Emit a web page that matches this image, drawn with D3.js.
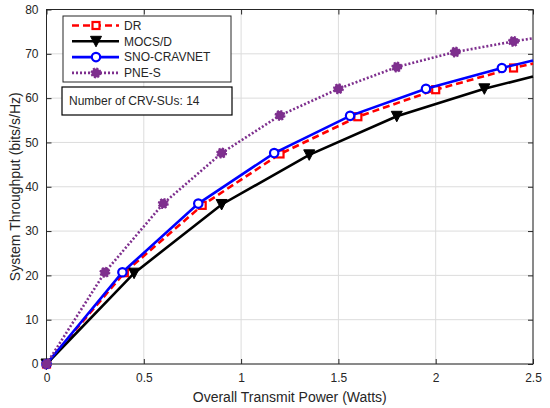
<!DOCTYPE html>
<meta charset="utf-8">
<title>System Throughput</title>
<script src="https://d3js.org/d3.v7.min.js"></script>
<style>
  body { margin: 0; background: #fff; }
  text { font-family: "Liberation Sans", Arial, sans-serif; fill: #262626; }
</style>
<body>
<div id="my_dataviz"></div>
<script>
// data (x = Watts, y = bits/s/Hz)
var drX   = [0, 0.4, 0.8, 1.2, 1.6, 2.0, 2.4, 2.5];
var drY   = [0, 20.6, 35.8, 47.4, 55.8, 61.9, 66.8, 67.8];
var mocsX = [0, 0.45, 0.9, 1.35, 1.8, 2.25, 2.5];
var mocsY = [0, 20.5, 36.0, 47.2, 55.9, 62.1, 64.9];
var snoX  = [0, 0.39, 0.78, 1.17, 1.56, 1.95, 2.34, 2.5];
var snoY  = [0, 20.7, 36.2, 47.6, 56.0, 62.1, 66.8, 68.5];
var pneX  = [0, 0.3, 0.6, 0.9, 1.2, 1.5, 1.8, 2.1, 2.4, 2.5];
var pneY  = [0, 20.7, 36.2, 47.6, 56.1, 62.1, 67.0, 70.4, 72.8, 73.5];

var seriesNames = ["DR", "MOCS/D", "SNO-CRAVNET", "PNE-S"];
var xTicks = [0, 0.5, 1, 1.5, 2, 2.5];
var yTicks = [0, 10, 20, 30, 40, 50, 60, 70, 80];
var noteText = "Number of CRV-SUs: 14";

var margin = {top: 9.5, right: 17, bottom: 44, left: 46.5},
    width = 550 - margin.left - margin.right,
    height = 408 - margin.top - margin.bottom;

var svg = d3.select("#my_dataviz")
  .append("svg")
    .attr("width", 550)
    .attr("height", 408)
  .append("g")
    .attr("transform", "translate(" + margin.left + "," + margin.top + ")");

var x = d3.scaleLinear().domain([0, 2.5]).range([0, width]);
var y = d3.scaleLinear().domain([0, 80]).range([height, 0]);

// grid
svg.append("g").selectAll("line").data(xTicks).enter().append("line")
  .attr("x1", function(d) { return x(d); }).attr("x2", function(d) { return x(d); })
  .attr("y1", 0).attr("y2", height)
  .attr("stroke", "#dcdcdc").attr("stroke-width", 1);
svg.append("g").selectAll("line").data(yTicks).enter().append("line")
  .attr("y1", function(d) { return y(d); }).attr("y2", function(d) { return y(d); })
  .attr("x1", 0).attr("x2", width)
  .attr("stroke", "#dcdcdc").attr("stroke-width", 1);

// axes, ticks inward like matlab
function styleAxis(g) {
  g.select(".domain").remove();
  g.selectAll("line").attr("stroke", "#262626");
  g.selectAll("text").style("font-size", "12px").attr("fill", "#1a1a1a");
}
svg.append("g")
  .attr("transform", "translate(0," + height + ")")
  .call(d3.axisBottom(x).tickValues(xTicks).tickSizeInner(-5).tickSizeOuter(0).tickPadding(9)
    .tickFormat(d3.format("")))
  .call(styleAxis);
svg.append("g")
  .call(d3.axisTop(x).tickValues(xTicks).tickSizeInner(-5).tickSizeOuter(0).tickFormat(""))
  .call(styleAxis);
svg.append("g")
  .call(d3.axisLeft(y).tickValues(yTicks).tickSizeInner(-5).tickSizeOuter(0).tickPadding(8))
  .call(styleAxis);
svg.append("g")
  .attr("transform", "translate(" + width + ",0)")
  .call(d3.axisRight(y).tickValues(yTicks).tickSizeInner(-5).tickSizeOuter(0).tickFormat(""))
  .call(styleAxis);

svg.append("rect")
  .attr("width", width).attr("height", height)
  .attr("fill", "none").attr("stroke", "#262626").attr("stroke-width", 1);

// axis titles
svg.append("text")
  .attr("x", width / 2).attr("y", height + 38)
  .attr("text-anchor", "middle").style("font-size", "14px").attr("fill", "#1a1a1a")
  .text("Overall Transmit Power (Watts)");
svg.append("text")
  .attr("transform", "translate(" + (15 - margin.left) + "," + (height / 2) + ")rotate(-90)")
  .attr("text-anchor", "middle").attr("dy", "0.35em").style("font-size", "14px").attr("fill", "#1a1a1a")
  .text("System Throughput (bits/s/Hz)");

var series = [
  {name: seriesNames[0], xs: drX,   ys: drY,   color: "#ff0000", dash: "7,4", marker: "square"},
  {name: seriesNames[1], xs: mocsX, ys: mocsY, color: "#000000", dash: null,  marker: "triangle"},
  {name: seriesNames[2], xs: snoX,  ys: snoY,  color: "#0000ff", dash: null,  marker: "circle"},
  {name: seriesNames[3], xs: pneX,  ys: pneY,  color: "#7e2f8e", dash: "2,2", marker: "blob"}
];

var line = d3.line()
  .x(function(d) { return x(d[0]); })
  .y(function(d) { return y(d[1]); });

function drawMarker(g, s, px, py) {
  if (s.marker == "square") {
    g.append("rect").attr("x", px - 3.5).attr("y", py - 3.5).attr("width", 7).attr("height", 7)
      .attr("fill", "#fff").attr("stroke", s.color).attr("stroke-width", 2.2);
  } else if (s.marker == "triangle") {
    g.append("path").attr("d", "M" + (px - 5.5) + "," + (py - 5) + "L" + (px + 5.5) + "," + (py - 5) + "L" + px + "," + (py + 5.5) + "Z")
      .attr("fill", s.color).attr("stroke", s.color).attr("stroke-width", 1);
  } else if (s.marker == "circle") {
    g.append("circle").attr("cx", px).attr("cy", py).attr("r", 4.2)
      .attr("fill", "#fff").attr("stroke", s.color).attr("stroke-width", 2.2);
  } else {
    g.append("circle").attr("cx", px).attr("cy", py).attr("r", 4.5)
      .attr("fill", s.color).attr("stroke", s.color).attr("stroke-width", 2)
      .attr("stroke-dasharray", "2,1.5");
  }
}

var plot = svg.append("g");
series.forEach(function(s) {
  var pts = s.xs.map(function(v, i) { return [v, s.ys[i]]; });
  plot.append("path")
    .datum(pts)
    .attr("d", line)
    .attr("fill", "none")
    .attr("stroke", s.color)
    .attr("stroke-width", 2.6)
    .attr("stroke-dasharray", s.dash);
  var mg = plot.append("g");
  pts.forEach(function(p) {
    if (p[0] < 2.5) drawMarker(mg, s, x(p[0]), y(p[1]));
  });
});

// legend
var lg = svg.append("g").attr("transform", "translate(" + (63 - margin.left) + "," + (16 - margin.top) + ")");
lg.append("rect").attr("width", 168).attr("height", 66)
  .attr("fill", "#fff").attr("stroke", "#262626").attr("stroke-width", 1);
series.forEach(function(s, i) {
  var ly = 9.5 + i * 15.8;
  lg.append("line").attr("x1", 9).attr("x2", 56).attr("y1", ly).attr("y2", ly)
    .attr("stroke", s.color).attr("stroke-width", 2.6).attr("stroke-dasharray", s.dash);
  drawMarker(lg, s, 33, ly);
  lg.append("text").attr("x", 61).attr("y", ly).attr("dy", "0.35em")
    .style("font-size", "12px").attr("fill", "#000").text(s.name);
});

// note box
var nb = svg.append("g").attr("transform", "translate(" + (62 - margin.left) + "," + (87 - margin.top) + ")");
nb.append("rect").attr("width", 170).attr("height", 28)
  .attr("fill", "#fff").attr("stroke", "#000").attr("stroke-width", 1.2);
nb.append("text").attr("x", 7).attr("y", 14).attr("dy", "0.35em")
  .style("font-size", "12px").attr("fill", "#000").text(noteText);
</script>
</body>
